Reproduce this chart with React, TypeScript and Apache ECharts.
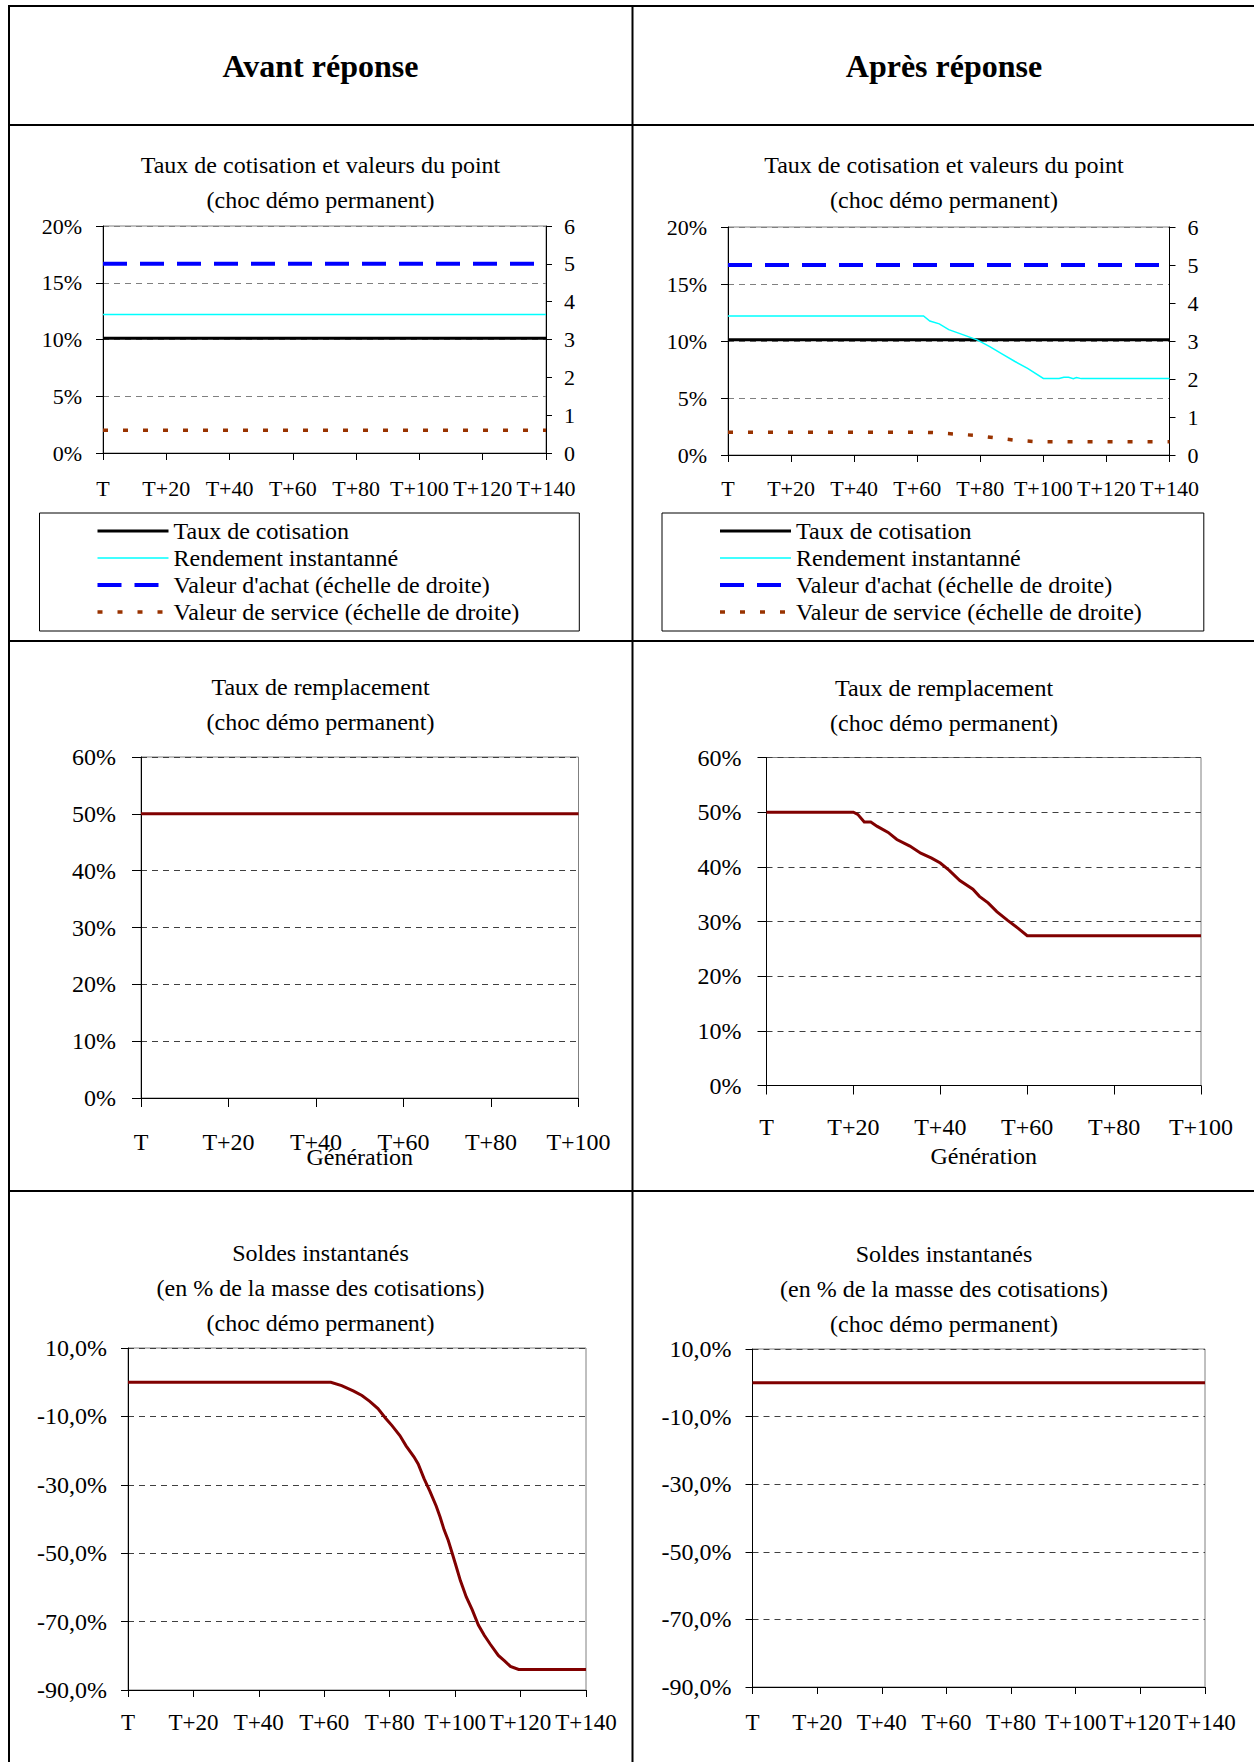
import React, { useEffect, useRef } from "react";
import * as echarts from "echarts";

const FONT = '"Liberation Serif", "Times New Roman", Times, serif';

// ---------- Texts ----------
const columnHeaders = ["Avant réponse", "Après réponse"];
const titleCotisation = ["Taux de cotisation et valeurs du point", "(choc démo permanent)"];
const titleRemplacement = ["Taux de remplacement", "(choc démo permanent)"];
const titleSoldes = ["Soldes instantanés", "(en % de la masse des cotisations)", "(choc démo permanent)"];
const legendNames = [
  "Taux de cotisation",
  "Rendement instantanné",
  "Valeur d'achat (échelle de droite)",
  "Valeur de service (échelle de droite)",
];
const xAxisNameGeneration = "Génération";

// ---------- Tick labels ----------
const xTicks140 = ["T", "T+20", "T+40", "T+60", "T+80", "T+100", "T+120", "T+140"];
const xTicks100 = ["T", "T+20", "T+40", "T+60", "T+80", "T+100"];
const pctTicks20 = ["0%", "5%", "10%", "15%", "20%"];
const rightTicks6 = ["0", "1", "2", "3", "4", "5", "6"];
const pctTicks60 = ["0%", "10%", "20%", "30%", "40%", "50%", "60%"];
const soldesTicks = ["-90,0%", "-70,0%", "-50,0%", "-30,0%", "-10,0%", "10,0%"];

// ---------- Data: chart 1 (Avant réponse, taux & valeurs du point) ----------
const yearsFlat140 = [0, 140];
const tauxCotisationAvant = [10.1, 10.1];
const rendementAvant = [12.2, 12.2];
const valeurAchatAvant = [5, 5];
const valeurServiceAvant = [0.6, 0.6];

// ---------- Data: chart 2 (Après réponse) ----------
const tauxCotisationApres = [10.1, 10.1];
const yearsRendementApres = [0, 62, 64, 67, 70, 74, 79, 83, 87, 91, 95, 100, 105, 106.5, 108, 109.5, 110.5, 112, 140];
const rendementApres = [12.2, 12.2, 11.75, 11.5, 11.0, 10.6, 10.1, 9.5, 8.85, 8.2, 7.6, 6.72, 6.72, 6.82, 6.82, 6.7, 6.8, 6.7, 6.7];
const valeurAchatApres = [5, 5];
const yearsServiceApres = [0, 62, 65, 72, 78, 84, 91, 98, 140];
const valeurServiceApres = [0.6, 0.6, 0.59, 0.55, 0.52, 0.46, 0.39, 0.35, 0.35];

// ---------- Data: charts 3-4 (Taux de remplacement) ----------
const yearsFlat100 = [0, 100];
const remplacementAvant = [50, 50];
const yearsRemplacementApres = [0, 20, 21, 22.5, 24, 25.5, 28, 30, 33, 35.5, 38, 40, 42, 44.5, 47.5, 49, 51, 53, 55.5, 58, 60, 100];
const remplacementApres = [50, 50, 49.6, 48.2, 48.2, 47.4, 46.3, 45, 43.8, 42.5, 41.6, 40.7, 39.4, 37.5, 35.9, 34.6, 33.4, 31.8, 30.2, 28.7, 27.4, 27.4];

// ---------- Data: charts 5-6 (Soldes instantanés) ----------
const yearsSoldesAvant = [0, 62, 65.3, 69, 71.5, 73.9, 76.4, 78.8, 80.7, 83.1, 85, 87.4, 88.7, 90.5, 92.3, 94.2, 95.4, 96.6, 97.9, 99.1, 100.3, 101.6, 103.4, 105.2, 107.1, 108.9, 110.8, 113.2, 115.1, 116.9, 119.4, 140];
const soldesAvant = [0, 0, -1.0, -2.6, -3.9, -5.6, -7.7, -10.6, -12.7, -15.6, -18.6, -21.8, -23.9, -28.2, -31.9, -36.2, -39.4, -43.1, -46.3, -50.0, -53.8, -58.0, -62.8, -66.5, -71.0, -74.0, -76.7, -79.9, -81.5, -83.1, -84.0, -84.0];
const soldesApres = [0, 0];

// ---------- helpers ----------
const zip = (xs: number[], ys: number[]) => xs.map((x, i) => [x, ys[i]]);

const COL1 = 320.5;
const COL2 = 944;

function lineSeries(name: string, xi: number, yi: number, xs: number[], ys: number[], color: string, width: number, type: any = "solid", z = 3) {
  return {
    type: "line",
    name,
    xAxisIndex: xi,
    yAxisIndex: yi,
    data: zip(xs, ys),
    symbol: "none",
    showSymbol: false,
    silent: true,
    z,
    lineStyle: { color, width, type, cap: "butt", join: "miter" },
    itemStyle: { color },
    emphasis: { disabled: true },
  };
}

function xAxis(gridIndex: number, max: number, labels: string[], fontSize: number, margin: number, tickLen: number, name?: string, nameGap?: number) {
  return {
    type: "value",
    gridIndex,
    min: 0,
    max,
    interval: 20,
    name: name || "",
    nameLocation: "middle",
    nameGap: nameGap || 0,
    nameMoveOverlap: false,
    nameTextStyle: { fontSize: 24, fontFamily: FONT, color: "#000" },
    axisLine: { show: true, onZero: false, lineStyle: { color: "#000", width: 1 } },
    axisTick: { show: true, inside: false, length: tickLen, lineStyle: { color: "#000", width: 1 } },
    axisLabel: {
      show: true,
      margin,
      fontSize,
      fontFamily: FONT,
      color: "#000",
      showMinLabel: true,
      showMaxLabel: true,
      formatter: (v: number) => labels[Math.round(v / 20)] ?? "",
    },
    splitLine: { show: false },
  };
}

function yAxis(gridIndex: number, min: number, max: number, interval: number, labels: string[], fontSize: number, margin: number, tickLen: number, gridColor: string | null, position = "left") {
  return {
    type: "value",
    gridIndex,
    position,
    min,
    max,
    interval,
    axisLine: { show: true, onZero: false, lineStyle: { color: "#000", width: 1 } },
    axisTick: { show: true, inside: false, length: tickLen, lineStyle: { color: "#000", width: 1 } },
    axisLabel: {
      show: true,
      margin,
      fontSize,
      fontFamily: FONT,
      color: "#000",
      showMinLabel: true,
      showMaxLabel: true,
      formatter: (v: number) => labels[Math.round((v - min) / interval)] ?? "",
    },
    splitLine: gridColor
      ? { show: true, lineStyle: { color: gridColor, width: 1, type: [6, 5] } }
      : { show: false },
  };
}

function legend(left: number, padRight: number) {
  return {
    show: true,
    orient: "vertical",
    left,
    top: 513,
    padding: [6, padRight, 7, 56],
    itemWidth: 71,
    itemHeight: 24,
    itemGap: 3,
    selectedMode: false,
    borderColor: "#000",
    borderWidth: 1,
    backgroundColor: "#fff",
    data: legendNames,
    textStyle: { fontSize: 24, fontFamily: FONT, color: "#000", lineHeight: 24 },
    lineStyle: { width: "inherit", type: "inherit", color: "inherit" },
    itemStyle: { color: "rgba(0,0,0,0)", borderColor: "rgba(0,0,0,0)", borderWidth: 0, opacity: 0 },
  };
}

function textEl(x: number, y: number, lines: string[], fontSize: number, lineHeight: number, bold = false) {
  return {
    type: "text",
    x,
    y,
    silent: true,
    style: {
      text: lines.join("\n"),
      fontSize,
      fontFamily: FONT,
      fontWeight: bold ? "bold" : "normal",
      lineHeight,
      fill: "#000",
      align: "center",
      verticalAlign: "middle",
      textAlign: "center",
      textVerticalAlign: "middle",
    },
  };
}

function hLine(y: number, x1: number, x2: number) {
  return { type: "line", silent: true, shape: { x1, y1: y, x2, y2: y }, style: { stroke: "#000", lineWidth: 2 } };
}
function vLine(x: number, y1: number, y2: number) {
  return { type: "line", silent: true, shape: { x1: x, y1, x2: x, y2 }, style: { stroke: "#000", lineWidth: 2 } };
}

function buildOption() {
  const gridStyle = { show: true, borderColor: "#808080", borderWidth: 1, backgroundColor: "transparent", containLabel: false };
  const grids = [
    { left: 103, top: 226, width: 443, height: 227 },
    { left: 728, top: 227, width: 441.5, height: 228 },
    { left: 141, top: 757, width: 437.5, height: 341 },
    { left: 766.5, top: 757.5, width: 434.5, height: 328 },
    { left: 128, top: 1348, width: 458, height: 342 },
    { left: 752.5, top: 1349, width: 452.5, height: 338 },
  ].map((g) => ({ ...gridStyle, ...g }));

  const xAxes = [
    xAxis(0, 140, xTicks140, 22, 24, 7),
    xAxis(1, 140, xTicks140, 22, 22, 7),
    xAxis(2, 100, xTicks100, 24, 32, 9, xAxisNameGeneration, 47),
    xAxis(3, 100, xTicks100, 24, 29, 9, xAxisNameGeneration, 58),
    xAxis(4, 140, xTicks140, 23, 21, 7),
    xAxis(5, 140, xTicks140, 23, 24, 7),
  ];

  const yAxes = [
    yAxis(0, 0, 20, 5, pctTicks20, 22, 21, 7, "#808080"),
    yAxis(0, 0, 6, 1, rightTicks6, 22, 18, 6, null, "right"),
    yAxis(1, 0, 20, 5, pctTicks20, 22, 21, 7, "#808080"),
    yAxis(1, 0, 6, 1, rightTicks6, 22, 18, 6, null, "right"),
    yAxis(2, 0, 60, 10, pctTicks60, 24, 25, 9, "#404040"),
    yAxis(3, 0, 60, 10, pctTicks60, 24, 25, 9, "#404040"),
    yAxis(4, -90, 10, 20, soldesTicks, 24, 21, 7, "#404040"),
    yAxis(5, -90, 10, 20, soldesTicks, 24, 21, 7, "#404040"),
  ];

  const BLACK = "#000000";
  const CYAN = "#00FFFF";
  const BLUE = "#0000FF";
  const BROWN = "#993300";
  const DARKRED = "#800000";
  const DASH = [24, 13];
  const DOT = [5, 15];

  const series = [
    lineSeries(legendNames[0], 0, 0, yearsFlat140, tauxCotisationAvant, BLACK, 3),
    lineSeries(legendNames[1], 0, 0, yearsFlat140, rendementAvant, CYAN, 1.5),
    lineSeries(legendNames[2], 0, 1, yearsFlat140, valeurAchatAvant, BLUE, 4, DASH),
    lineSeries(legendNames[3], 0, 1, yearsFlat140, valeurServiceAvant, BROWN, 3.5, DOT),

    lineSeries(legendNames[0], 1, 2, yearsFlat140, tauxCotisationApres, BLACK, 3),
    lineSeries(legendNames[1], 1, 2, yearsRendementApres, rendementApres, CYAN, 1.5),
    lineSeries(legendNames[2], 1, 3, yearsFlat140, valeurAchatApres, BLUE, 4, DASH),
    lineSeries(legendNames[3], 1, 3, yearsServiceApres, valeurServiceApres, BROWN, 3.5, DOT),

    lineSeries("Taux de remplacement (avant réponse)", 2, 4, yearsFlat100, remplacementAvant, DARKRED, 3),
    lineSeries("Taux de remplacement (après réponse)", 3, 5, yearsRemplacementApres, remplacementApres, DARKRED, 3),
    lineSeries("Soldes instantanés (avant réponse)", 4, 6, yearsSoldesAvant, soldesAvant, DARKRED, 3),
    lineSeries("Soldes instantanés (après réponse)", 5, 7, yearsFlat140, soldesApres, DARKRED, 3),
  ];

  const graphic = [
    hLine(6, 8, 1254),
    vLine(9, 5, 1762),
    vLine(632.5, 5, 1762),
    hLine(125, 8, 1254),
    hLine(641, 8, 1254),
    hLine(1191, 8, 1254),
    textEl(COL1, 66, [columnHeaders[0]], 32, 36, true),
    textEl(COL2, 66, [columnHeaders[1]], 32, 36, true),
    textEl(COL1, 182, titleCotisation, 24, 35),
    textEl(COL2, 182, titleCotisation, 24, 35),
    textEl(COL1, 704, titleRemplacement, 24, 35),
    textEl(COL2, 705, titleRemplacement, 24, 35),
    textEl(COL1, 1288, titleSoldes, 24, 35),
    textEl(COL2, 1289, titleSoldes, 24, 35),
  ];

  return {
    animation: false,
    backgroundColor: "#ffffff",
    textStyle: { fontFamily: FONT },
    grid: grids,
    xAxis: xAxes,
    yAxis: yAxes,
    legend: [legend(39.5, 60), legend(662, 62)],
    series,
    graphic,
  };
}

export default function App() {
  const ref = useRef<HTMLDivElement>(null);
  useEffect(() => {
    const chart = echarts.init(ref.current as HTMLDivElement, null, { renderer: "svg" });
    chart.setOption(buildOption() as any);
    return () => chart.dispose();
  }, []);
  return (
    <div
      ref={ref}
      style={{ position: "absolute", left: 0, top: 0, width: 1254, height: 1762, background: "#fff" }}
    />
  );
}
